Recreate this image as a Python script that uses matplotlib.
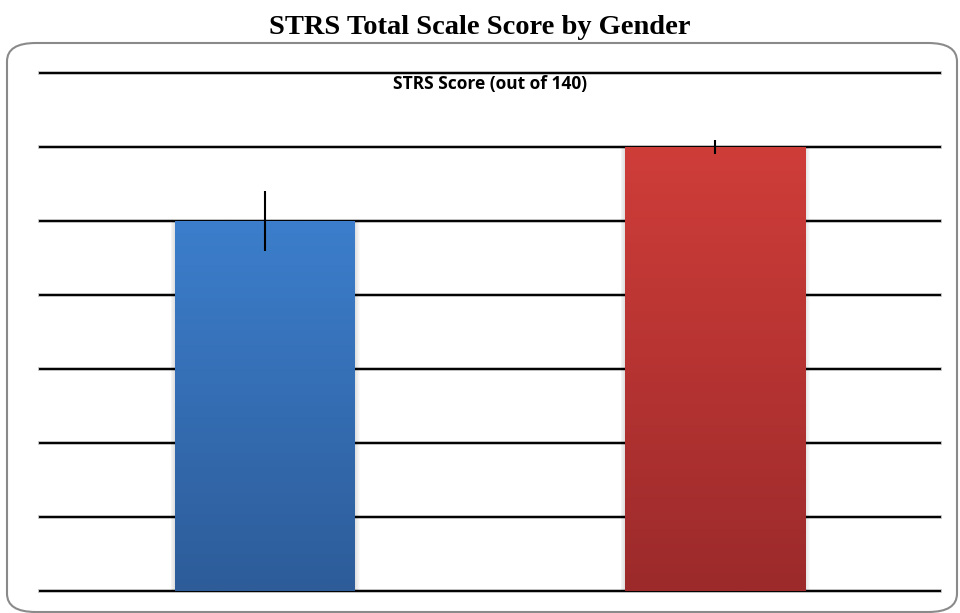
import matplotlib
matplotlib.use("Agg")
import matplotlib.pyplot as plt
import numpy as np
from matplotlib.patches import FancyBboxPatch
from matplotlib.colors import LinearSegmentedColormap

categories = ["Male", "Female"]
values = [100, 120]
errors = [8, 2]
title = "STRS Total Scale Score by Gender"
subtitle = "STRS Score (out of 140)"
yticks = [0, 20, 40, 60, 80, 100, 120, 140]
top_colors = ["#3C7ECC", "#CF3D39"]
bottom_colors = ["#2D5C99", "#9C2A2B"]

W, H = 960, 613
fig = plt.figure(figsize=(W / 100, H / 100), dpi=100)
fig.patch.set_facecolor("white")

# rounded frame
frame = FancyBboxPatch((7 / W, (H - 612) / H), 950 / W, 569 / H,
                       boxstyle="round,pad=0,rounding_size=0.03",
                       transform=fig.transFigure, facecolor="none",
                       edgecolor="#8a8a8a", linewidth=1.5, zorder=-1)
fig.patches.append(frame)

ax = fig.add_axes([40 / W, (H - 591) / H, 900 / W, 518 / H])
ax.set_facecolor("none")
ax.set_xlim(-0.5, 1.5)
ax.set_ylim(0, 140)
for s in ax.spines.values():
    s.set_visible(False)
ax.set_xticks([])
ax.set_yticks(yticks)
ax.tick_params(left=False, labelleft=False)
for yv in yticks:
    ax.axhline(yv, color="#b0b0b0", linewidth=2.6, zorder=1, clip_on=False)
    ax.axhline(yv, color="black", linewidth=1.4, zorder=1.1, clip_on=False)

x = np.arange(len(categories))
bars = ax.bar(x, values, width=0.4, color="none", zorder=2)
for i, b in enumerate(bars):
    x0, w, h = b.get_x(), b.get_width(), b.get_height()
    # shadow
    for k in range(6):
        ax.add_patch(plt.Rectangle((x0 - 0.002 * k, 0), w + 0.004 * k, h,
                                   facecolor="black", alpha=0.025, zorder=1.5,
                                   edgecolor="none"))
    cmap = LinearSegmentedColormap.from_list("g", [bottom_colors[i], top_colors[i]])
    grad = np.linspace(0, 1, 256).reshape(-1, 1)
    ax.imshow(grad, cmap=cmap, aspect="auto", origin="lower",
              extent=(x0, x0 + w, 0, h), zorder=2.5)
ax.set_xlim(-0.5, 1.5)
ax.set_ylim(0, 140)
ax.errorbar(x, values, yerr=errors, fmt="none", ecolor="black",
            elinewidth=1.5, capsize=0, zorder=3)

ax.text(0.5, 1 - (84 - 73) / 518, subtitle, transform=ax.transAxes,
        ha="center", va="center", fontsize=12.5, fontweight="bold",
        family=["Open Sans", "DejaVu Sans"], color="black", zorder=4)

fig.text(0.5, 1 - 27 / H, title, ha="center", va="center",
         fontsize=20.5, fontweight="bold", family=["Liberation Serif", "DejaVu Serif"])

fig.savefig("out.png", dpi=100)
